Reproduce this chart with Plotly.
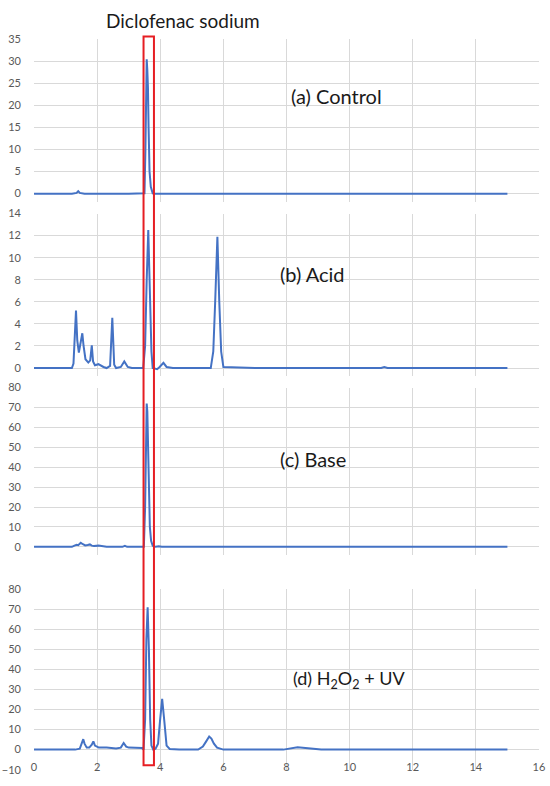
import plotly.graph_objects as go

# ---------------- data ----------------
x_ctrl = [0, 1.2, 1.35, 1.4, 1.45, 1.6, 3.0, 3.50, 3.53, 3.57, 3.59, 3.61, 3.63, 3.66, 3.70, 3.76, 3.85, 8.0, 8.5, 15.0]
y_ctrl = [-0.1, -0.1, 0.1, 0.5, 0.1, -0.1, -0.1, 0, 10, 30.5, 28, 24, 15, 5, 1.5, 0, -0.1, -0.1, 0, -0.1]

x_acid = [0, 1.2, 1.25, 1.30, 1.33, 1.37, 1.42, 1.47, 1.53, 1.57, 1.63, 1.72, 1.78, 1.83, 1.87, 1.93, 2.04,
          2.2, 2.3, 2.41, 2.48, 2.54, 2.6, 2.75, 2.86, 2.97, 3.1, 3.46, 3.52, 3.57, 3.62, 3.67, 3.72, 3.76,
          3.9, 3.98, 4.1, 4.2, 4.4, 5.6, 5.68, 5.74, 5.81, 5.87, 5.93, 6.0, 7.0, 11.0, 11.1, 11.2, 15.0]
y_acid = [0, 0, 0.4, 3.0, 5.2, 2.5, 1.4, 2.2, 3.15, 2.0, 0.8, 0.5, 0.7, 2.05, 0.6, 0.25, 0.35,
          0.1, 0, 0.2, 4.55, 0.3, 0, 0.1, 0.6, 0.1, 0, 0, 2, 8, 12.5, 7, 1.5, 0,
          -0.1, 0.1, 0.47, 0.1, 0, 0, 1.5, 6, 11.9, 6, 1.5, 0.1, 0, 0, 0.1, 0, 0]

x_base = [0, 1.2, 1.28, 1.35, 1.40, 1.48, 1.55, 1.62, 1.70, 1.77, 1.83, 1.90, 2.04, 2.15, 2.3, 2.8, 2.88,
          2.95, 3.1, 3.14, 3.2, 3.48, 3.52, 3.57, 3.59, 3.61, 3.64, 3.67, 3.71, 3.76, 3.85, 3.95, 4.05, 15.0]
y_base = [0, 0, 0.6, 1.0, 0.8, 2.0, 1.3, 0.7, 0.9, 1.2, 0.6, 0.4, 0.6, 0.2, 0, 0, 0.5,
          0, 0, 0.3, 0, 0, 20, 72, 68, 50, 25, 10, 3, 0.5, 0, 0.3, 0, 0]

x_uv = [0, 1.3, 1.45, 1.52, 1.56, 1.60, 1.67, 1.75, 1.83, 1.88, 1.93, 2.05, 2.3, 2.6, 2.75, 2.84, 2.92,
        3.0, 3.3, 3.42, 3.47, 3.52, 3.56, 3.60, 3.64, 3.68, 3.72, 3.78, 3.85, 3.93, 3.99, 4.06, 4.13, 4.2,
        4.3, 4.6, 5.2, 5.35, 5.45, 5.55, 5.62, 5.7, 5.8, 6.0, 7.9, 8.1, 8.35, 8.6, 8.9, 9.1, 15.0]
y_uv = [0, 0, 0.5, 3, 5.2, 3, 1.0, 1.0, 2.5, 4.1, 2, 1, 1, 0.6, 1, 3.3, 1.5,
        1, 0.7, 0.8, 0, 15, 55, 71, 50, 15, 2, 0, 0.5, 3, 14, 25.3, 14, 2,
        0.3, 0, 0, 1.5, 4, 6.5, 5.5, 3, 1, 0, 0, 0.7, 1.2, 0.8, 0.5, 0, 0]

panel_labels = ["(a) Control", "(b) Acid", "(c) Base", "(d) H<sub>2</sub>O<sub>2</sub> + UV"]
y_ranges = [[-1.9, 35], [-0.7, 14], [-4, 80], [-10, 80]]
y_dticks = [5, 2, 10, 10]
x_ticks = [0, 2, 4, 6, 8, 10, 12, 14, 16]
title_text = "Diclofenac sodium"
highlight_window = [3.47, 3.80]

# ---------------- layout ----------------
W, H = 550, 786
L, R = 34, 11
def fy(py):
    return 1 - py / H
def fx(px):
    return (px - L) / (W - L - R)

domains = [[fy(198), fy(33)], [fy(375), fy(210)], [fy(557), fy(387)], [fy(775.5), fy(592)]]
series = [(x_ctrl, y_ctrl), (x_acid, y_acid), (x_base, y_base), (x_uv, y_uv)]

BLUE = "rgb(68,114,196)"
GRID = "#D9D9D9"
TICKC = "#595959"
FONT = "Lato"

fig = go.Figure()
layout = dict(width=W, height=H, margin=dict(l=L, r=R, t=0, b=0),
              paper_bgcolor="white", plot_bgcolor="white", showlegend=False,
              font=dict(family=FONT, color="#262626"))

for i, (xs, ys) in enumerate(series):
    n = "" if i == 0 else str(i + 1)
    fig.add_trace(go.Scatter(x=xs, y=ys, mode="lines", xaxis="x" + n, yaxis="y" + n,
                             line=dict(color=BLUE, width=2), hoverinfo="skip"))
    layout["xaxis" + n] = dict(domain=[0, 1], anchor="y" + n, range=[-0.001, 16.001], tickvals=x_ticks,
                               showgrid=True, gridcolor=GRID, gridwidth=1, zeroline=False,
                               showline=False, ticks="", showticklabels=(i == 3),
                               tickfont=dict(size=11, color=TICKC, family=FONT),
                               ticklabelstandoff=-11)
    layout["yaxis" + n] = dict(domain=domains[i], anchor="x" + n, range=y_ranges[i], dtick=y_dticks[i],
                               tick0=0, showgrid=True, gridcolor=GRID, gridwidth=1, zeroline=False,
                               showline=False, ticks="", tickfont=dict(size=11, color=TICKC, family=FONT),
                               ticklabelstandoff=12)

fig.update_layout(**layout)

# panel labels
label_pos = [(289, 90), (278, 271), (278, 460), (291, 684)]
label_sizes = [20, 20, 20, 18]
for lab, (px, py), fs in zip(panel_labels, label_pos, label_sizes):
    fig.add_annotation(text=lab, xref="paper", yref="paper", x=fx(px), y=fy(py), xanchor="left",
                       yanchor="middle", showarrow=False, font=dict(size=fs, color="#1a1a1a", family=FONT))

fig.add_annotation(text=title_text, xref="paper", yref="paper", x=fx(104), y=fy(14), xanchor="left",
                   yanchor="middle", showarrow=False, font=dict(size=19, color="#1a1a1a", family=FONT))

# red highlight rectangle
fig.add_shape(type="rect", xref="x4", yref="paper", x0=highlight_window[0], x1=highlight_window[1],
              y0=fy(771), y1=fy(30), line=dict(color="rgb(230,30,35)", width=2), fillcolor="rgba(0,0,0,0)",
              layer="above")

post = ("document.documentElement.style.margin='0';document.documentElement.style.padding='0';"
        "document.documentElement.style.overflow='hidden';"
        "document.body.style.margin='0';document.body.style.padding='0';"
        "document.body.style.overflow='hidden';")
fig.write_html("out.html", config={"displayModeBar": False}, post_script=post)
